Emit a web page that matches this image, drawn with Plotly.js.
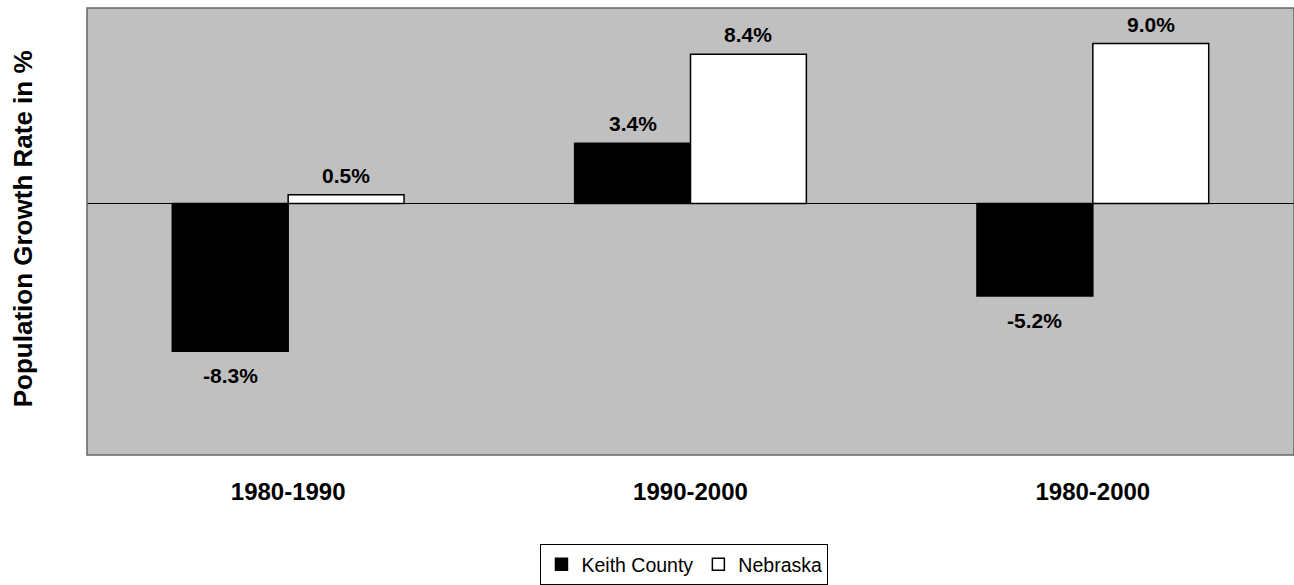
<!DOCTYPE html>
<html>
<head>
<meta charset="utf-8">
<script src="https://cdn.plot.ly/plotly-3.0.1.min.js"></script>
<style>html,body{margin:0;padding:0;background:#fff;}#chart{width:1294px;height:585px;}</style>
</head>
<body>
<div id="chart"></div>
<script>
const categories = ["1980-1990", "1990-2000", "1980-2000"];
const keithCounty = [-8.3, 3.4, -5.2];
const nebraska = [0.5, 8.4, 9.0];
const seriesNames = ["Keith County", "Nebraska"];

const FONT = "Liberation Sans, Arial, sans-serif";
const W = 1294, H = 585;
const M = {l: 87, r: 0, t: 8, b: 129};
const BARGAP = 0.424;

const traces = [
  {
    type: "bar", name: seriesNames[0], x: categories, y: keithCounty,
    marker: {color: "#000000", line: {color: "#000", width: 1.5}},
    hoverinfo: "x+y"
  },
  {
    type: "bar", name: seriesNames[1], x: categories, y: nebraska,
    marker: {color: "#ffffff", line: {color: "#000", width: 1.5}},
    hoverinfo: "x+y"
  }
];

// label offsets derived from the bar geometry
const catPx = (W - M.l - M.r) / categories.length;
const barPx = catPx * (1 - BARGAP) / 2;
const labelFont = {family: FONT, size: 21, color: "#000", weight: "bold"};
const annotations = [];
[keithCounty, nebraska].forEach((series, si) => {
  series.forEach((v, i) => {
    const pos = v >= 0;
    annotations.push({
      x: categories[i], y: v, xref: "x", yref: "y",
      xshift: (si === 0 ? -1 : 1) * barPx / 2,
      text: v.toFixed(1) + "%", showarrow: false,
      yanchor: pos ? "bottom" : "top", yshift: pos ? 6 : -11,
      font: labelFont
    });
  });
});
annotations.push({
  text: "Population Growth Rate in %", textangle: -90, xref: "paper", yref: "paper",
  x: 0, y: 0.505, xanchor: "center", yanchor: "middle", xshift: -64, showarrow: false,
  font: {family: FONT, size: 26, color: "#000", weight: "bold"}
});

const layout = {
  width: W, height: H,
  margin: M,
  paper_bgcolor: "#ffffff",
  plot_bgcolor: "#c0c0c0",
  barmode: "group",
  bargap: BARGAP,
  bargroupgap: 0,
  showlegend: true,
  font: {family: FONT, color: "#000"},
  xaxis: {
    type: "category", showgrid: false, zeroline: false, showline: false,
    ticks: "", ticklabelstandoff: 20,
    tickfont: {family: FONT, size: 24, color: "#000", weight: "bold"}
  },
  yaxis: {
    range: [-14.14, 11], showgrid: false, showticklabels: false, ticks: "",
    zeroline: true, zerolinecolor: "#000", zerolinewidth: 1, showline: false
  },
  shapes: [
    {type: "rect", xref: "paper", yref: "paper", x0: 0, x1: 1, y0: 0, y1: 1,
     line: {color: "#666666", width: 1.5}, fillcolor: "rgba(0,0,0,0)", layer: "above"}
  ],
  annotations: annotations,
  legend: {
    orientation: "h", x: 0.495, xanchor: "center", y: -0.2, yanchor: "top",
    bordercolor: "#000", borderwidth: 1, bgcolor: "#fff",
    font: {family: FONT, size: 19.5, color: "#000"},
    itemwidth: 30, tracegroupgap: 0
  }
};

Plotly.newPlot("chart", traces, layout, {displayModeBar: false, staticPlot: true});
</script>
</body>
</html>
